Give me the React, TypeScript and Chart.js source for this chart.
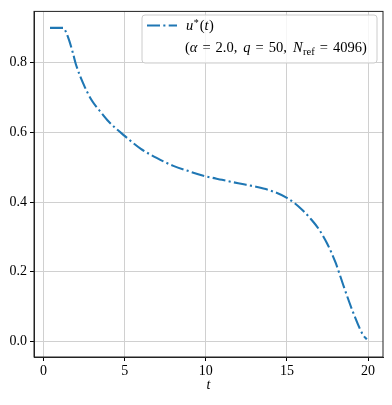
import React, { useEffect, useRef } from "react";
import { Chart, registerables } from "chart.js";

Chart.register(...registerables);

const tValues = [0.4, 0.8, 1.2, 1.5, 1.8, 2.0, 2.5, 3.0, 3.5, 4.0, 5.0, 6.0, 7.0, 8.0, 9.0, 10.0, 11.0, 12.0, 13.0, 14.0, 15.0, 15.5, 16.0, 16.5, 17.0, 17.5, 18.0, 18.5, 19.0, 19.5, 19.7, 19.92];
const uValues = [0.9, 0.9, 0.9, 0.875, 0.83, 0.795, 0.735, 0.69, 0.66, 0.632, 0.59, 0.553, 0.526, 0.504, 0.488, 0.474, 0.464, 0.454, 0.445, 0.433, 0.412, 0.396, 0.375, 0.35, 0.32, 0.279, 0.226, 0.158, 0.093, 0.036, 0.018, 0.006];
const xTicks = [0, 5, 10, 15, 20];
const yTicks = [0.0, 0.2, 0.4, 0.6, 0.8];

const FONT = "'Liberation Serif', 'DejaVu Serif', serif";
const BLUE = "#1f77b4";
const DASH = [13, 3.3, 2.1, 3.3];

const legendPlugin = {
  id: "mathLegend",
  afterDraw(chart: any) {
    const ctx = chart.ctx;
    const x0 = 142, y0 = 15, x1 = 377, y1 = 63, r = 3;
    ctx.save();
    ctx.beginPath();
    ctx.moveTo(x0 + r, y0);
    ctx.lineTo(x1 - r, y0);
    ctx.quadraticCurveTo(x1, y0, x1, y0 + r);
    ctx.lineTo(x1, y1 - r);
    ctx.quadraticCurveTo(x1, y1, x1 - r, y1);
    ctx.lineTo(x0 + r, y1);
    ctx.quadraticCurveTo(x0, y1, x0, y1 - r);
    ctx.lineTo(x0, y0 + r);
    ctx.quadraticCurveTo(x0, y0, x0 + r, y0);
    ctx.closePath();
    ctx.fillStyle = "rgba(255,255,255,0.8)";
    ctx.fill();
    ctx.strokeStyle = "#cccccc";
    ctx.lineWidth = 1;
    ctx.stroke();

    // sample line
    ctx.beginPath();
    ctx.setLineDash(DASH);
    ctx.strokeStyle = BLUE;
    ctx.lineWidth = 2.1;
    ctx.moveTo(147, 25.5);
    ctx.lineTo(177, 25.5);
    ctx.stroke();
    ctx.setLineDash([]);

    ctx.fillStyle = "#000";
    ctx.textBaseline = "alphabetic";
    ctx.textAlign = "left";
    const draw = (txt: string, x: number, y: number, style: string, size: number) => {
      ctx.font = `${style} ${size}px ${FONT}`;
      ctx.fillText(txt, x, y);
      return x + ctx.measureText(txt).width;
    };
    const S = 14.5;
    // row 1: u*(t)
    let x = 186;
    const b1 = 30;
    x = draw("u", x, b1, "italic", S);
    x = draw("*", x + 0.5, b1 - 4, "normal", 10);
    x = draw("(", x + 1, b1, "normal", S);
    x = draw("t", x, b1, "italic", S);
    x = draw(")", x + 0.5, b1, "normal", S);

    // row 2
    const b2 = 52;
    const g = 5;
    const c = 6;
    x = 185;
    x = draw("(", x, b2, "normal", S);
    x = draw("α", x, b2, "italic", S);
    x = draw("=", x + g, b2, "normal", S);
    x = draw("2.0,", x + g, b2, "normal", S);
    x = draw("q", x + c, b2, "italic", S);
    x = draw("=", x + g, b2, "normal", S);
    x = draw("50,", x + g, b2, "normal", S);
    x = draw("N", x + c, b2, "italic", S);
    x = draw("ref", x + 0.5, b2 + 3, "normal", 10.5);
    x = draw("=", x + g, b2, "normal", S);
    x = draw("4096)", x + g, b2, "normal", S);
    ctx.restore();
  },
};

export default function App() {
  const ref = useRef<HTMLCanvasElement | null>(null);
  useEffect(() => {
    if (!ref.current) return;
    const data = tValues.map((t, i) => ({ x: t, y: uValues[i] }));
    const chart = new Chart(ref.current, {
      type: "line",
      data: {
        datasets: [
          {
            label: "u*(t)",
            data,
            borderColor: BLUE,
            borderWidth: 2.1,
            borderDash: DASH,
            pointRadius: 0,
            fill: false,
            cubicInterpolationMode: "monotone",
          },
        ],
      },
      options: {
        responsive: false,
        animation: false,
        layout: { padding: { left: 0, top: 8, right: 9, bottom: 0 } },
        plugins: { legend: { display: false }, tooltip: { enabled: false } },
        scales: {
          x: {
            type: "linear",
            min: -0.585,
            max: 20.92,
            afterBuildTicks: (s: any) => {
              s.ticks = xTicks.map((v) => ({ value: v }));
            },
            afterFit: (s: any) => {
              s.height = 48;
            },
            grid: { color: "#d0d0d0", lineWidth: 1, tickColor: "#000", tickLength: 4, drawTicks: true },
            border: { display: true, color: "#222", width: 1 },
            ticks: {
              color: "#000",
              font: { family: FONT, size: 14 },
              padding: 2,
              maxRotation: 0,
              callback: (v: any) => String(v),
            },
            title: {
              display: true,
              text: "t",
              color: "#000",
              font: { family: FONT, size: 14, style: "italic" },
              padding: { top: 0, bottom: 11 },
            },
          },
          y: {
            type: "linear",
            min: -0.0446,
            max: 0.9473,
            afterBuildTicks: (s: any) => {
              s.ticks = yTicks.map((v) => ({ value: v }));
            },
            afterFit: (s: any) => {
              s.width = 34;
            },
            grid: { color: "#d0d0d0", lineWidth: 1, tickColor: "#000", tickLength: 4, drawTicks: true },
            border: { display: true, color: "#222", width: 1 },
            ticks: {
              color: "#000",
              font: { family: FONT, size: 14 },
              padding: 3,
              callback: (v: any) => Number(v).toFixed(1),
            },
          },
        },
      },
      plugins: [
        legendPlugin,
        {
          id: "frame",
          afterDraw(chart: any) {
            const { ctx, chartArea: a } = chart;
            ctx.save();
            ctx.strokeStyle = "#222";
            ctx.lineWidth = 1;
            ctx.strokeRect(a.left, a.top, a.right - a.left, a.bottom - a.top);
            ctx.restore();
          },
        },
      ],
    } as any);
    return () => chart.destroy();
  }, []);
  return (
    <div style={{ position: "fixed", left: 0, top: 0, width: 392, height: 405, background: "#fff" }}>
      <canvas ref={ref} width={392} height={405} style={{ width: 392, height: 405 }} />
    </div>
  );
}
